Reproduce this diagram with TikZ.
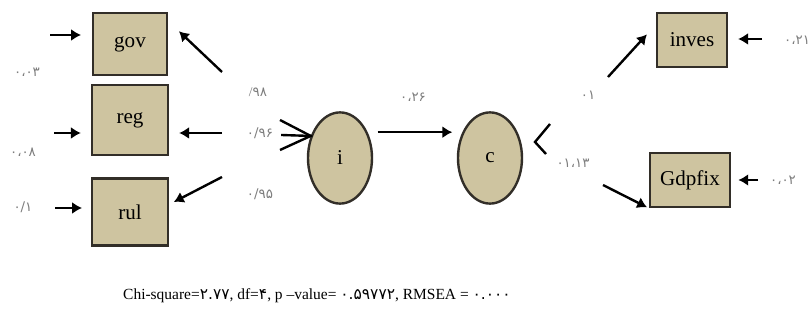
\documentclass[tikz,border=0pt]{standalone}
\usepackage{fontspec}
\setmainfont{Liberation Serif}
\newfontfamily\farsi[Script=Arabic]{DejaVu Sans}
\usetikzlibrary{shapes.geometric, arrows.meta}
\definecolor{boxtan}{RGB}{206,196,160}
\definecolor{boxline}{RGB}{50,46,40}
\definecolor{numgray}{RGB}{125,125,125}

\begin{document}
\begin{tikzpicture}[line width = 1.7pt, >={Latex[length=7pt, width=8.5pt]},
				box/.style = {rectangle, draw = boxline, fill = 
				boxtan, inner sep = 0pt, font = \fontsize{15}{18}\selectfont},
				latent/.style = {ellipse, draw = boxline, fill = 
				boxtan, inner sep = 0pt, minimum width = 1.6cm,
				minimum height = 2.28cm, font = \fontsize{15}{18}\selectfont},
				num/.style = {text = numgray, inner sep = 0pt,
				font = \farsi\fontsize{9.5}{11}\selectfont}]

				\useasboundingbox (0,0) rectangle (20.2,8);

				\node [box, minimum width = 1.85cm, minimum height = 1.55cm] (gov) at (3.25,6.9) {gov};
				\node [box, minimum width = 1.9cm, minimum height = 1.75cm] (reg) at (3.25,5.0) {reg};
				\node [box, minimum width = 1.9cm, minimum height = 1.68cm] (rul) at (3.25,2.7) {rul};
				\node [latent] (i) at (8.5,4.05) {i};
				\node [latent] (c) at (12.25,4.05) {c};
				\node [box, minimum width = 1.75cm, minimum height = 1.35cm] (inves) at (17.3,7.0) {inves};
				\node [box, minimum width = 2.0cm, minimum height = 1.35cm] (gdp) at (17.25,3.5) {Gdpfix};

				% error terms
				\coordinate (e_1) at (1.25,7.125);
				\coordinate (e_2) at (1.35,4.675);
				\coordinate (e_3) at (1.375,2.8);
				\coordinate (e_4) at (19.05,7.025);
				\coordinate (e_5) at (18.95,3.5);
				\draw [->, shorten >= 0.27cm] (e_1) -- (e_1 -| gov.west);
				\draw [->, shorten >= 0.25cm] (e_2) -- (e_2 -| reg.west);
				\draw [->, shorten >= 0.22cm] (e_3) -- (e_3 -| rul.west);
				\draw [->, shorten >= 0.25cm] (e_4) -- (e_4 -| inves.east);
				\draw [->, shorten >= 0.18cm] (e_5) -- (e_5 -| gdp.east);

				% loadings
				\coordinate (l_1) at (5.55,6.2);
				\coordinate (l_2) at (5.55,4.675);
				\coordinate (l_3) at (5.55,3.575);
				\draw [->, shorten >= 0.37cm] (l_1) -- (gov.31);
				\draw [->, shorten >= 0.25cm] (l_2) -- (l_2 -| reg.east);
				\draw [->, shorten >= 0.13cm] (l_3) -- (rul.11);

				% chevrons
				\coordinate (k_1) at (7.0,5.0);
				\coordinate (k_2) at (7.0,4.25);
				\coordinate (k_3) at (7.03,4.625);
				\draw (k_1) -- (i.143) -- (k_2);
				\draw (k_3) -- (i.143);
				\coordinate (k_4) at (13.75,4.9);
				\coordinate (k_5) at (13.375,4.45);
				\coordinate (k_6) at (13.65,4.15);
				\draw (k_4) -- (k_5) -- (k_6);

				\draw [->, shorten <= 0.25cm, shorten >= 0.25cm] (i.43) -- (c.137);
				\coordinate (o_1) at (15.2,6.075);
				\coordinate (o_2) at (15.075,3.375);
				\draw [->, shorten >= 0.33cm] (o_1) -- (inves.157);
				\draw [->, shorten >= 0.05cm] (o_2) -- (gdp.south west);

				% values
				\node [num] (n_1) at (0.675,6.2) {۰،۰۳};
				\node [num] (n_2) at (0.575,4.2) {۰،۰۸};
				\node [num] (n_3) at (0.575,2.825) {۰/۱};
				\node [num] (n_4) at (6.45,5.7) {{\rmfamily /}۹۸};
				\node [num] (n_5) at (6.5,4.675) {۰/۹۶};
				\node [num] (n_6) at (6.5,3.15) {۰/۹۵};
				\node [num] (n_7) at (10.325,5.575) {۰،۲۶};
				\node [num] (n_8) at (14.7,5.625) {۰۱};
				\node [num] (n_9) at (14.325,3.925) {۰۱،۱۳};
				\node [num] (n_10) at (19.925,7.0) {۰،۲۱};
				\node [num] (n_11) at (19.575,3.5) {۰،۰۲};

				\node [font = \fontsize{11}{13}\selectfont] (fit) at (7.925,0.6)
				{Chi-square={\farsi ۲.۷۷}, df={\farsi ۴}, p --value= {\farsi ۰.۵۹۷۷۲}, RMSEA = {\farsi ۰.۰۰۰}};
			\end{tikzpicture}
\end{document}
